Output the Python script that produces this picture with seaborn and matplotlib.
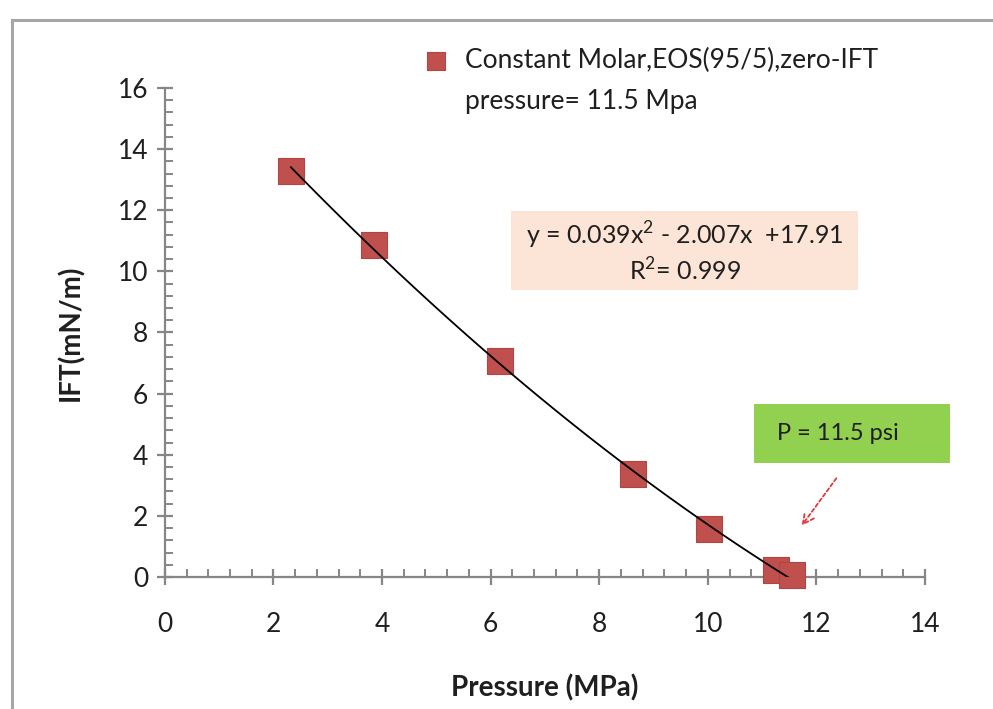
import matplotlib
matplotlib.use("Agg")
import matplotlib.pyplot as plt
import seaborn as sns
import pandas as pd
import numpy as np
from matplotlib.ticker import MultipleLocator
from matplotlib.patches import Rectangle
from matplotlib.lines import Line2D

# ---- data ----
pressure_mpa = [2.32, 3.85, 6.17, 8.62, 10.02, 11.25, 11.55]
ift_mnm = [13.3, 10.85, 7.07, 3.36, 1.58, 0.22, 0.05]
series_label_lines = ["Constant Molar,EOS(95/5),zero-IFT", "pressure= 11.5 Mpa"]
equation_text = "y = 0.039x$^{2}$ - 2.007x  +17.91\nR$^{2}$= 0.999"
marker_note = "P = 11.5 psi"
x_label = "Pressure (MPa)"
y_label = "IFT(mN/m)"

df = pd.DataFrame({"Pressure": pressure_mpa, "IFT": ift_mnm})

sns.set_style("white")
plt.rcParams['font.family'] = ['Lato', 'DejaVu Sans']
plt.rcParams['mathtext.fontset'] = 'custom'
plt.rcParams['mathtext.rm'] = 'Lato'

TXT = '#1F1F1F'

fig = plt.figure(figsize=(9.93, 7.09), dpi=100)
ax = fig.add_axes([0.166, 0.1862, 0.7655, 0.6897])

# outer frame border (partially visible in reference)
fig.patches.append(Rectangle((12/993, -0.05), 1.1, 1 - 20/709 + 0.05, transform=fig.transFigure,
                             fill=False, edgecolor='#A6A6A6', linewidth=2.2, zorder=0))

sns.regplot(data=df, x="Pressure", y="IFT", order=2, ci=None, scatter=False, ax=ax,
            line_kws=dict(color='black', linewidth=1.3, zorder=3))
sns.scatterplot(data=df, x="Pressure", y="IFT", marker='s', s=330, color='#C0504D',
                edgecolor='#B04542', linewidth=0.8, ax=ax, label=series_label_lines[0], zorder=2,
                clip_on=False)

ax.set_xlim(0, 14)
ax.set_ylim(0, 16)
ax.xaxis.set_major_locator(MultipleLocator(2))
ax.xaxis.set_minor_locator(MultipleLocator(0.4))
ax.yaxis.set_major_locator(MultipleLocator(2))
ax.yaxis.set_minor_locator(MultipleLocator(0.4))

for s in ['top', 'right']:
    ax.spines[s].set_visible(False)
for s in ['left', 'bottom']:
    ax.spines[s].set_color('#868686')
    ax.spines[s].set_linewidth(1.6)
    ax.spines[s].set_zorder(1)

ax.tick_params(axis='both', which='major', direction='inout', length=12, width=1.6,
               color='#868686', labelsize=19, labelcolor=TXT)
ax.tick_params(axis='both', which='minor', direction='in', length=6, width=1.4, color='#868686')
ax.tick_params(axis='x', which='major', pad=19)
ax.tick_params(axis='y', which='major', pad=6)
ax.xaxis.set_ticks_position('bottom')
ax.yaxis.set_ticks_position('left')

ax.set_xlabel(x_label, fontsize=20, fontweight='bold', color=TXT, labelpad=27)
ax.set_ylabel(y_label, fontsize=20, fontweight='bold', color=TXT, labelpad=24)

handles, labels = ax.get_legend_handles_labels()
blank = Line2D([], [], linestyle='none', marker=None)
leg = ax.legend(handles=[handles[0], blank], labels=series_label_lines,
                loc='upper left', bbox_to_anchor=(420/993, 1 - 48/709), bbox_transform=fig.transFigure,
                frameon=False, fontsize=19, handletextpad=0.5, markerscale=0.72,
                labelspacing=0.6, borderaxespad=0, borderpad=0, handlelength=1.2)
for t in leg.get_texts():
    t.set_color(TXT)

# equation box
ax.add_patch(Rectangle((511/993, 1 - 290/709), 347/993, 79/709, transform=fig.transFigure,
                       facecolor='#FCE4D6', edgecolor='none', zorder=4, clip_on=False))
ax.text(685/993, 1 - 252/709, equation_text, transform=fig.transFigure, ha='center', va='center',
        fontsize=18, color=TXT, linespacing=1.3, zorder=5)

# green note box
ax.add_patch(Rectangle((754/993, 1 - 463/709), 196/993, 59/709, transform=fig.transFigure,
                       facecolor='#92D050', edgecolor='none', zorder=4, clip_on=False))
ax.text(777/993, 1 - 433/709, marker_note, transform=fig.transFigure, ha='left', va='center',
        fontsize=17, color=TXT, zorder=5)

# red dashed arrow
ax.annotate('', xy=(800/993, 1 - 528/709), xytext=(838/993, 1 - 476/709),
            xycoords='figure fraction', textcoords='figure fraction',
            arrowprops=dict(arrowstyle='->,head_length=0.8,head_width=0.4', color='#E0383C',
                            linestyle=(0, (2, 1.5)), linewidth=1.3))

fig.savefig("out.png", dpi=100)
